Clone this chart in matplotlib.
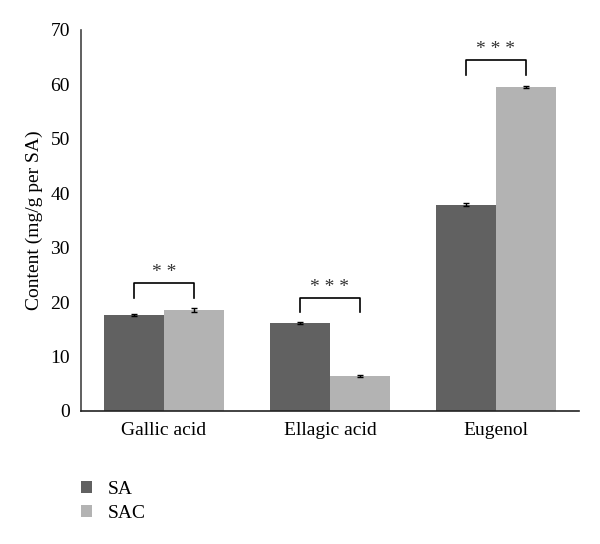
import numpy as np
import matplotlib.pyplot as plt

plt.rcParams['font.family'] = ['Liberation Serif', 'DejaVu Serif']

categories = ["Gallic acid", "Ellagic acid", "Eugenol"]
sa_values = [17.7, 16.2, 37.9]
sac_values = [18.5, 6.5, 59.5]
sa_err = [0.2, 0.15, 0.3]
sac_err = [0.4, 0.2, 0.15]
stars = ["**", "***", "***"]
bracket_top = [23.5, 20.7, 64.5]
bracket_low = [20.7, 18.1, 61.8]

dark = "#616161"
light = "#b3b3b3"

fig = plt.figure(figsize=(6.0, 5.44), dpi=100)
ax = fig.add_axes([0.135, 0.2445, 0.83, 0.7005])

x = np.arange(len(categories))
w = 0.362
ax.bar(x - w / 2, sa_values, w, color=dark, label="SA",
       yerr=sa_err, error_kw=dict(ecolor="black", capsize=2, elinewidth=1, capthick=1))
ax.bar(x + w / 2, sac_values, w, color=light, label="SAC",
       yerr=sac_err, error_kw=dict(ecolor="black", capsize=2, elinewidth=1, capthick=1))

for i in range(len(categories)):
    x0, x1 = x[i] - w / 2, x[i] + w / 2
    ax.plot([x0, x0, x1, x1], [bracket_low[i], bracket_top[i], bracket_top[i], bracket_low[i]],
            color="black", lw=1.2)
    ax.text(x[i], bracket_top[i] + 0.4, " ".join(stars[i]), ha="center", va="bottom",
            fontsize=14, color="#333333")

ax.set_xlim(-0.5, 2.5)
ax.set_ylim(0, 70)
ax.set_yticks(range(0, 71, 10))
ax.set_xticks(x)
ax.set_xticklabels(categories, fontsize=14)
ax.tick_params(axis="y", labelsize=14, length=0, pad=8)
ax.tick_params(axis="x", length=0, pad=8)
ax.set_ylabel("Content (mg/g per SA)", fontsize=14, labelpad=5)

for s in ["top", "right"]:
    ax.spines[s].set_visible(False)
ax.spines["left"].set_color("#444444")
ax.spines["bottom"].set_color("#222222")
ax.spines["left"].set_linewidth(1.2)
ax.spines["bottom"].set_linewidth(1.2)

fig.legend(loc="upper left", bbox_to_anchor=(0.105, 0.148), frameon=False,
           fontsize=14, handlelength=0.6, handleheight=0.6, handletextpad=0.8,
           labelspacing=0.35)

fig.savefig("out.png", dpi=100)
